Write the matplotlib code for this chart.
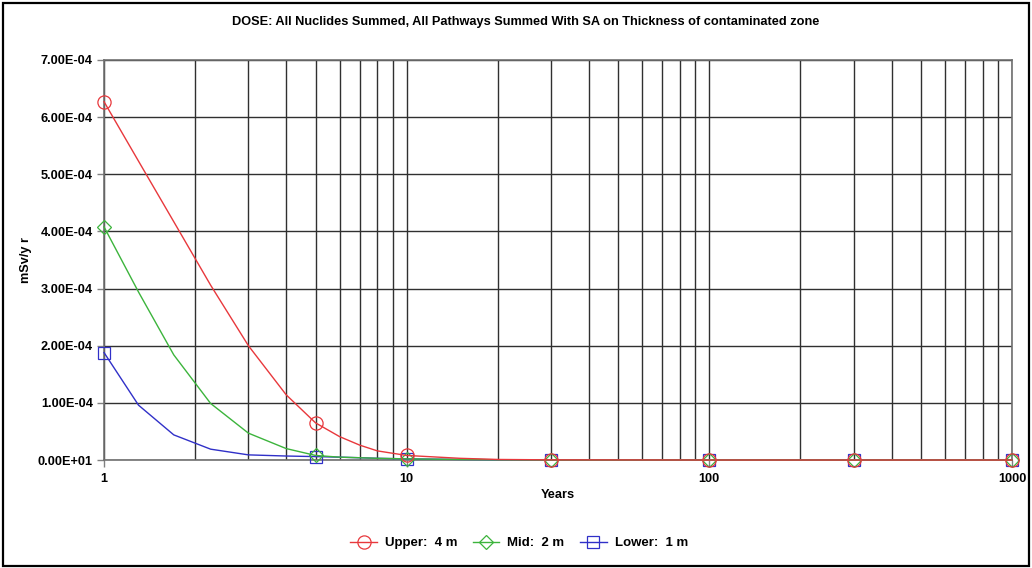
import numpy as np
import matplotlib
matplotlib.use('Agg')
import matplotlib.pyplot as plt
from matplotlib.patches import Rectangle
from matplotlib.ticker import FixedLocator, FixedFormatter, LogLocator, NullFormatter

plt.rcParams['font.family'] = ['Liberation Sans', 'DejaVu Sans']
plt.rcParams['font.weight'] = 'bold'

# data (dose in mSv/yr)
years = [1, 1.3, 1.7, 2.25, 3, 4, 5, 6, 7, 8, 10, 15, 20, 30, 100, 300, 1000]
marker_years = [1, 5, 10, 30, 100, 300, 1000]
upper = np.array([6.27, 5.23, 4.17, 3.06, 2.00, 1.14, 0.65, 0.41, 0.26, 0.16, 0.08,
                  0.03, 0.01, 0.003, 0, 0, 0]) * 1e-4
mid = np.array([4.08, 2.94, 1.84, 0.99, 0.47, 0.20, 0.08, 0.05, 0.04, 0.03, 0.02,
                0.01, 0.005, 0, 0, 0, 0]) * 1e-4
lower = np.array([1.88, 0.96, 0.44, 0.19, 0.09, 0.07, 0.06, 0.05, 0.04, 0.03, 0.02,
                  0.01, 0.005, 0, 0, 0, 0]) * 1e-4
series_names = ['Upper:  4 m', 'Mid:  2 m', 'Lower:  1 m']
ytick_vals = [0, 1e-4, 2e-4, 3e-4, 4e-4, 5e-4, 6e-4, 7e-4]
ytick_labels = ['0.00E+01', '1.00E-04', '2.00E-04', '3.00E-04',
                '4.00E-04', '5.00E-04', '6.00E-04', '7.00E-04']
xtick_vals = [1, 10, 100, 1000]

# colors
red = '#e8383c'
green = '#3cb43c'
blue = '#3030c8'
grid = '#303030'

fig = plt.figure(figsize = (10.32, 5.68), dpi = 100)
ax = fig.add_axes([0.1008, 0.1901, 0.8798, 0.7043])

mark_idx = [years.index(m) for m in marker_years]
styles = [(upper, red, 'o', 9.5), (mid, green, 'D', 7), (lower, blue, 's', 8)]
handles = []
for k, (vals, col, mk, ms) in enumerate(styles):
    h, = ax.plot(years, vals, color = col, lw = 1.0,
                 marker = mk, markersize = ms, markevery = mark_idx,
                 markerfacecolor = 'none', markeredgecolor = col, markeredgewidth = 0.9,
                 label = series_names[k], zorder = 5 - k, clip_on = False)
    handles.append(h)

ax.set_xscale('log')
ax.set_xlim(1, 1000)
ax.set_ylim(0, 7e-4)

ax.xaxis.set_major_locator(FixedLocator(xtick_vals))
ax.xaxis.set_major_formatter(FixedFormatter([str(v) for v in xtick_vals]))
ax.xaxis.set_minor_locator(LogLocator(base = 10, subs = np.arange(2, 10)))
ax.xaxis.set_minor_formatter(NullFormatter())
ax.yaxis.set_major_locator(FixedLocator(ytick_vals))
ax.yaxis.set_major_formatter(FixedFormatter(ytick_labels))

ax.grid(which = 'both', axis = 'x', color = grid, lw = 1.0)
ax.grid(which = 'major', axis = 'y', color = grid, lw = 1.0)
ax.tick_params(axis = 'both', which = 'major', length = 5, width = 1, color = '#808080',
               labelsize = 9.2, pad = 3)
ax.tick_params(axis = 'x', which = 'minor', length = 0)
ax.tick_params(axis = 'x', which = 'major', pad = 4)
for s in ax.spines.values():
    s.set_color('#707070')
    s.set_linewidth(1.2)

ax.set_ylabel('mSv/y r', fontsize = 9.2, fontweight = 'bold')
ax.yaxis.set_label_coords(-0.079, 0.5)
ax.set_xlabel('Years', fontsize = 9.2, fontweight = 'bold', labelpad = 3)

fig.text(0.509, 0.962, 'DOSE: All Nuclides Summed, All Pathways Summed With SA on Thickness of contaminated zone',
         ha = 'center', va = 'center', fontsize = 9.2, fontweight = 'bold')

fig.legend(handles = handles, loc = 'center', bbox_to_anchor = (0.503, 0.044), ncol = 3,
           frameon = False, fontsize = 9.5, handlelength = 2.0, columnspacing = 1.2,
           handletextpad = 0.6)

# figure border
fig.patches.append(Rectangle((0.003, 0.004), 0.994, 0.99, transform = fig.transFigure,
                             fill = False, edgecolor = 'black', lw = 1.6))

fig.savefig('out.png', dpi = 100)
